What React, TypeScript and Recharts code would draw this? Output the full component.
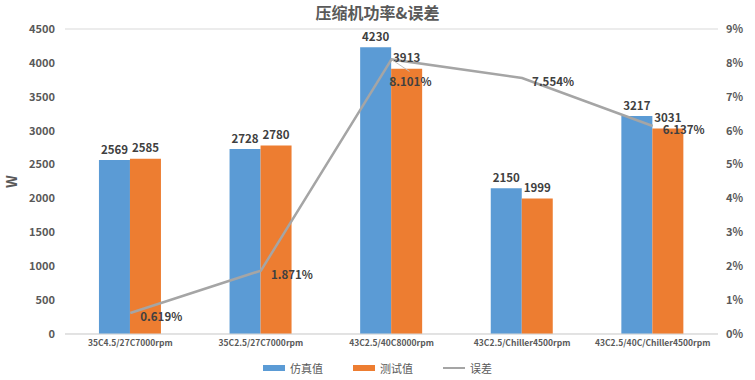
import React from "react";
import {
  ComposedChart,
  Bar,
  Line,
  XAxis,
  YAxis,
  CartesianGrid,
  Legend,
  LabelList,
} from "recharts";

// categories + series read off the picture
const categories = [
  "35C4.5/27C7000rpm",
  "35C2.5/27C7000rpm",
  "43C2.5/40C8000rpm",
  "43C2.5/Chiller4500rpm",
  "43C2.5/40C/Chiller4500rpm",
];
const simValues = [2569, 2728, 4230, 2150, 3217];
const testValues = [2585, 2780, 3913, 1999, 3031];
const errorValues = [0.619, 1.871, 8.101, 7.554, 6.137];

const leftTicks = [0, 500, 1000, 1500, 2000, 2500, 3000, 3500, 4000, 4500];
const rightTicks = [0, 1, 2, 3, 4, 5, 6, 7, 8, 9];

const chartData = categories.map((name, i) => ({
  name,
  sim: simValues[i],
  test: testValues[i],
  err: errorValues[i],
}));

const FONT = "'Noto Sans CJK SC', 'Open Sans', sans-serif";
const BLUE = "#5B9BD5";
const ORANGE = "#ED7D31";
const GREY = "#A5A5A5";
const TEXT = "#595959";

// error labels sit to the right of the point, the peak one is pushed below
const ErrorLabel = (props: any) => {
  const { x, y, value, index } = props;
  const peak = Math.max(...errorValues);
  const isPeak = errorValues[index] === peak;
  const tx = isPeak ? x - 2 : x + 10;
  const ty = isPeak ? y + 23 : y + 5;
  return (
    <g>
      {isPeak && (
        <line x1={x} y1={y} x2={x + 18} y2={y + 12} stroke="#BFBFBF" strokeWidth={1} />
      )}
      <text
        x={tx}
        y={ty}
        fill="#404040"
        fontSize={11.5}
        fontWeight="bold"
        fontFamily={FONT}
        dominantBaseline="middle"
      >
        {`${Number(value).toFixed(3)}%`}
      </text>
    </g>
  );
};

const AxisTitle = (props: any) => {
  const { viewBox } = props;
  const cy = viewBox.y + viewBox.height / 2;
  return (
    <text
      x={13}
      y={cy}
      transform={`rotate(-90, 13, ${cy})`}
      textAnchor="middle"
      dominantBaseline="middle"
      fontSize={14}
      fontWeight="bold"
      fill={TEXT}
      fontFamily={FONT}
    >
      W
    </text>
  );
};

const LegendContent = () => {
  const items = [
    { label: "仿真值", color: BLUE, type: "rect" },
    { label: "测试值", color: ORANGE, type: "rect" },
    { label: "误差", color: GREY, type: "line" },
  ];
  return (
    <div
      style={{
        display: "flex",
        justifyContent: "center",
        gap: 30,
        fontFamily: FONT,
        fontSize: 11,
        color: TEXT,
      }}
    >
      {items.map((it) => (
        <div key={it.label} style={{ display: "flex", alignItems: "center" }}>
          <svg width={24} height={8} style={{ marginRight: 3 }}>
            {it.type === "rect" ? (
              <rect x={0} y={1} width={22} height={6} fill={it.color} />
            ) : (
              <line x1={0} y1={4} x2={22} y2={4} stroke={it.color} strokeWidth={2} />
            )}
          </svg>
          <span>{it.label}</span>
        </div>
      ))}
    </div>
  );
};

const App = () => {
  return (
    <div style={{ position: "absolute", left: 0, top: 0, width: 755, height: 380, background: "#fff" }}>
      <div
        style={{
          position: "absolute",
          top: 0,
          width: 755,
          textAlign: "center",
          fontFamily: FONT,
          fontSize: 16,
          fontWeight: "bold",
          color: TEXT,
        }}
      >
        压缩机功率&误差
      </div>
      <ComposedChart
        width={755}
        height={380}
        data={chartData}
        margin={{ top: 29, right: 0, left: 0, bottom: 6 }}
        barGap={0}
        barCategoryGap="26%"
      >
        <CartesianGrid vertical={false} stroke="#D9D9D9" />
        <XAxis
          dataKey="name"
          axisLine={{ stroke: "#D9D9D9" }}
          tickLine={false}
          height={24}
          interval={0}
          tick={{ fontSize: 8.5, fontWeight: "bold", fill: TEXT, fontFamily: FONT, dy: -2 }}
        />
        <YAxis
          yAxisId="left"
          width={65}
          domain={[0, 4500]}
          ticks={leftTicks}
          axisLine={false}
          tickLine={false}
          tickMargin={4}
          tick={{ fontSize: 11, fontWeight: "bold", fill: TEXT, fontFamily: FONT }}
          label={<AxisTitle />}
        />
        <YAxis
          yAxisId="right"
          orientation="right"
          width={37}
          domain={[0, 9]}
          ticks={rightTicks}
          tickFormatter={(v) => `${v}%`}
          axisLine={false}
          tickLine={false}
          tick={{ fontSize: 11, fontWeight: "bold", fill: TEXT, fontFamily: FONT }}
        />
        <Legend verticalAlign="bottom" content={<LegendContent />} wrapperStyle={{ bottom: 4 }} />
        <Bar yAxisId="left" dataKey="sim" name="仿真值" fill={BLUE} isAnimationActive={false}>
          <LabelList
            dataKey="sim"
            position="top"
            offset={6}
            style={{ fontSize: 11.5, fontWeight: "bold", fill: "#404040", fontFamily: FONT }}
          />
        </Bar>
        <Bar yAxisId="left" dataKey="test" name="测试值" fill={ORANGE} isAnimationActive={false}>
          <LabelList
            dataKey="test"
            position="top"
            offset={7}
            style={{ fontSize: 11.5, fontWeight: "bold", fill: "#404040", fontFamily: FONT }}
          />
        </Bar>
        <Line
          yAxisId="right"
          dataKey="err"
          name="误差"
          stroke={GREY}
          strokeWidth={2.5}
          dot={false}
          isAnimationActive={false}
        >
          <LabelList dataKey="err" content={<ErrorLabel />} />
        </Line>
      </ComposedChart>
    </div>
  );
};

export default App;
